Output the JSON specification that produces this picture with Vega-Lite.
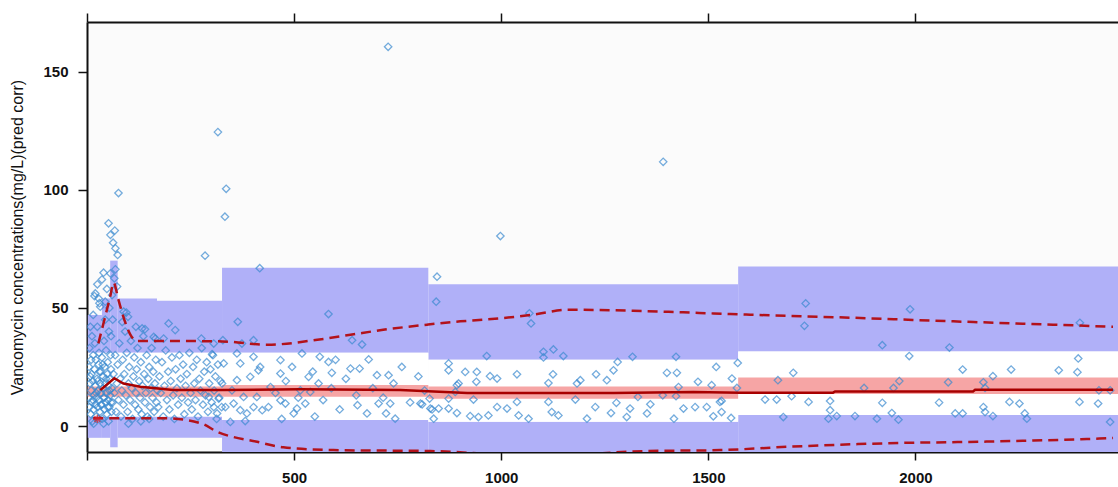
{
  "$schema": "https://vega.github.io/schema/vega-lite/v6.json",
  "width": 1031,
  "height": 430,
  "autosize": "none",
  "padding": {"left": 87, "top": 22, "right": 0, "bottom": 35},
  "background": "#ffffff",
  "config": {
    "view": {"stroke": null, "fill": "#fbfbfb"},
    "axis": {
      "grid": false,
      "domainColor": "#111111",
      "domainWidth": 2,
      "tickColor": "#111111",
      "tickWidth": 1.5,
      "labelColor": "#111111",
      "labelFont": "Liberation Sans",
      "labelFontWeight": "bold",
      "labelFontSize": 15
    }
  },
  "datasets": {
    "bands": [
      {"t0": 2, "t1": 36, "lo": 31, "hi": 47},
      {"t0": 36, "t1": 56, "lo": 31, "hi": 54},
      {"t0": 56, "t1": 74, "lo": 31, "hi": 70},
      {"t0": 74, "t1": 169, "lo": 31, "hi": 54},
      {"t0": 169, "t1": 326, "lo": 31, "hi": 53},
      {"t0": 326, "t1": 824, "lo": 31, "hi": 67},
      {"t0": 824, "t1": 1572, "lo": 28, "hi": 60},
      {"t0": 1572, "t1": 2489, "lo": 31.5, "hi": 67.5},
      {"t0": 2, "t1": 36, "lo": -5, "hi": 4},
      {"t0": 36, "t1": 56, "lo": -5, "hi": 4},
      {"t0": 56, "t1": 74, "lo": -9, "hi": 4},
      {"t0": 74, "t1": 169, "lo": -5, "hi": 4},
      {"t0": 169, "t1": 326, "lo": -5, "hi": 4},
      {"t0": 326, "t1": 824, "lo": -13, "hi": 2.5},
      {"t0": 824, "t1": 1572, "lo": -13, "hi": 1.8},
      {"t0": 1572, "t1": 2489, "lo": -13, "hi": 4.7}
    ],
    "mid": [
      {"t0": 2, "t1": 326, "lo": 4, "hi": 31},
      {"t0": 326, "t1": 824, "lo": 2.5, "hi": 31},
      {"t0": 824, "t1": 1572, "lo": 1.8, "hi": 28},
      {"t0": 1572, "t1": 2489, "lo": 4.7, "hi": 31.5}
    ],
    "pink": [
      {"t0": 2, "t1": 326, "lo": 12.4, "hi": 16.7},
      {"t0": 326, "t1": 824, "lo": 12.4, "hi": 17.4},
      {"t0": 824, "t1": 1572, "lo": 11.5, "hi": 16.7},
      {"t0": 1572, "t1": 2489, "lo": 13.6, "hi": 20.5}
    ],
    "med": [
      {"t": 32, "c": 15.2}, {"t": 66, "c": 20.2}, {"t": 88, "c": 18}, {"t": 129, "c": 16.6},
      {"t": 208, "c": 15.2}, {"t": 327, "c": 15.2}, {"t": 515, "c": 15.6}, {"t": 756, "c": 15.2},
      {"t": 918, "c": 14}, {"t": 1271, "c": 14}, {"t": 1464, "c": 14.4}, {"t": 1577, "c": 14.1},
      {"t": 1801, "c": 14.1}, {"t": 1806, "c": 14.6}, {"t": 2139, "c": 14.6}, {"t": 2144, "c": 15.3},
      {"t": 2477, "c": 15.3}
    ],
    "hi": [
      {"t": 27.5, "c": 35}, {"t": 42, "c": 45}, {"t": 56.5, "c": 55.2}, {"t": 64, "c": 60.7},
      {"t": 76, "c": 53.4}, {"t": 90, "c": 45}, {"t": 105, "c": 38.6}, {"t": 121, "c": 36},
      {"t": 201, "c": 36}, {"t": 327, "c": 35.8}, {"t": 436, "c": 34.4}, {"t": 556, "c": 36.5},
      {"t": 636, "c": 38.6}, {"t": 715, "c": 40.7}, {"t": 821, "c": 42.9}, {"t": 901, "c": 44.3},
      {"t": 957, "c": 45}, {"t": 1077, "c": 47.1}, {"t": 1159, "c": 49.2}, {"t": 1318, "c": 48.8},
      {"t": 1439, "c": 48.1}, {"t": 1601, "c": 47.1}, {"t": 1850, "c": 45.8}, {"t": 2091, "c": 44.3},
      {"t": 2332, "c": 42.9}, {"t": 2477, "c": 42}
    ],
    "lo": [
      {"t": 15, "c": 3.3}, {"t": 189, "c": 3.3}, {"t": 274, "c": 1.2}, {"t": 315, "c": -2.5},
      {"t": 411, "c": -6.7}, {"t": 474, "c": -9}, {"t": 595, "c": -10.2}, {"t": 829, "c": -10.6},
      {"t": 1095, "c": -12.7}, {"t": 1348, "c": -10.6}, {"t": 1529, "c": -10.2}, {"t": 1690, "c": -8.8},
      {"t": 1931, "c": -7.3}, {"t": 2173, "c": -6.6}, {"t": 2414, "c": -5.5}, {"t": 2477, "c": -5.1}
    ],
    "star": [{"t": 25, "c": 3}],
    "obs": [
      {"t":727,"c":160.5},{"t":316,"c":124.4},{"t":336,"c":100.4},{"t":333,"c":88.6},{"t":285,"c":72.1},{"t":417,"c":66.8},
      {"t":76,"c":98.6},{"t":52,"c":85.8},{"t":67,"c":82.7},{"t":56.5,"c":80.9},{"t":63,"c":77.6},{"t":68.5,"c":75.2},
      {"t":74,"c":72.4},{"t":40,"c":64.9},{"t":56.5,"c":64.6},{"t":68.5,"c":66.3},{"t":66,"c":62.5},{"t":20,"c":56.1},
      {"t":28,"c":54},{"t":44,"c":52.6},{"t":32,"c":50.5},{"t":60.5,"c":55.4},{"t":72.6,"c":59},{"t":88.6,"c":48.4},
      {"t":99,"c":46.2},{"t":133,"c":41.3},{"t":161,"c":37.7},{"t":197,"c":43.4},{"t":213,"c":40.6},{"t":185,"c":37},
      {"t":364,"c":44.1},{"t":328,"c":36.3},{"t":276,"c":37},{"t":306,"c":34.9},{"t":374,"c":34.9},{"t":402,"c":36.3},
      {"t":1391,"c":111.8},{"t":998,"c":80.4},
      {"t":583,"c":47.4},{"t":845,"c":63.2},{"t":843,"c":52.6},{"t":640,"c":36.3},{"t":664,"c":34.5},{"t":583,"c":27.1},
      {"t":591,"c":22.5},{"t":636,"c":24.3},{"t":658,"c":24.3},{"t":680,"c":28.2},{"t":700,"c":21.5},{"t":728,"c":21.5},
      {"t":653,"c":8.8},{"t":676,"c":5.3},{"t":704,"c":9.5},{"t":732,"c":9.5},{"t":722,"c":5.3},{"t":744,"c":3.1},
      {"t":805,"c":9.5},{"t":829,"c":7.4},{"t":837,"c":3.1},{"t":849,"c":7.4},{"t":873,"c":26.5},{"t":873,"c":23.6},
      {"t":893,"c":17.3},{"t":519,"c":30.7},{"t":562,"c":29.3},{"t":467,"c":27.9},{"t":467,"c":22.2},{"t":535,"c":20.8},
      {"t":515,"c":15.1},{"t":539,"c":14.4},{"t":559,"c":18},{"t":443,"c":16.5},{"t":467,"c":10.9},{"t":499,"c":5.3},
      {"t":507,"c":7.4},{"t":527,"c":9.5},{"t":479,"c":9.5},{"t":438,"c":8},{"t":423,"c":6.7},{"t":386,"c":5.3},
      {"t":346,"c":1.7},{"t":382,"c":2.1},{"t":410,"c":12.3},{"t":414,"c":23.6},{"t":402,"c":29.3},{"t":362,"c":30.7},
      {"t":302,"c":30.4},{"t":330,"c":26.5},{"t":370,"c":26.5},{"t":418,"c":25},{"t":362,"c":19.4},{"t":394,"c":20.8},
      {"t":326,"c":18},{"t":350,"c":15.1},{"t":378,"c":12.3},{"t":318,"c":11.6},{"t":294,"c":12.3},{"t":306,"c":8},
      {"t":334,"c":8},{"t":354,"c":9.5},{"t":402,"c":8},{"t":370,"c":6.7},{"t":314,"c":5.3},
      {"t":1068,"c":47.7},{"t":1072,"c":43.4},{"t":965,"c":29.6},{"t":1102,"c":31.4},{"t":1126,"c":32.4},{"t":1102,"c":29},
      {"t":1150,"c":29.6},{"t":1317,"c":29.3},{"t":1422,"c":29.3},{"t":1571,"c":26.7},{"t":1519,"c":25},{"t":1281,"c":27.1},
      {"t":913,"c":22.9},{"t":941,"c":22.9},{"t":940,"c":18.7},{"t":973,"c":21.1},{"t":990,"c":20.1},{"t":897,"c":18},
      {"t":889,"c":14.4},{"t":1038,"c":21.9},{"t":1125,"c":21.9},{"t":1114,"c":18.2},{"t":1183,"c":18},{"t":1191,"c":19.4},
      {"t":1229,"c":21.9},{"t":1255,"c":19.4},{"t":1271,"c":23.6},{"t":1400,"c":22.5},{"t":1424,"c":22.5},{"t":1475,"c":18.7},
      {"t":1508,"c":17.3},{"t":1557,"c":20.1},{"t":1428,"c":16.5},{"t":809,"c":9.2},{"t":827,"c":11.6},{"t":833,"c":7},
      {"t":873,"c":11.6},{"t":873,"c":7.4},{"t":893,"c":5.5},{"t":925,"c":4.2},{"t":945,"c":3.8},{"t":969,"c":4.5},
      {"t":933,"c":11.2},{"t":990,"c":8},{"t":1014,"c":7.4},{"t":1038,"c":10.2},{"t":1042,"c":4.5},{"t":1066,"c":3.1},
      {"t":1114,"c":10.2},{"t":1122,"c":5.9},{"t":1138,"c":4.5},{"t":1179,"c":11.2},{"t":1207,"c":3.1},{"t":1227,"c":8},
      {"t":1265,"c":5.5},{"t":1278,"c":9.8},{"t":1303,"c":3.8},{"t":1311,"c":7.4},{"t":1330,"c":12.3},{"t":1352,"c":5.3},
      {"t":1360,"c":9.2},{"t":1390,"c":13},{"t":1417,"c":3.1},{"t":1422,"c":12.6},{"t":1440,"c":7.4},{"t":1468,"c":8},
      {"t":1496,"c":8},{"t":1512,"c":4.1},{"t":1532,"c":10.6},{"t":1532,"c":5.9},{"t":1555,"c":3.4},
      {"t":1735,"c":51.9},{"t":1732,"c":42.4},{"t":1987,"c":49.4},{"t":2397,"c":43.7},{"t":1920,"c":34.2},{"t":2082,"c":33.2},
      {"t":1985,"c":29.6},{"t":2393,"c":28.6},{"t":2391,"c":22.8},{"t":2346,"c":23.6},{"t":2231,"c":23.9},{"t":2114,"c":23.9},
      {"t":2187,"c":21.1},{"t":1961,"c":19},{"t":1947,"c":16.1},{"t":1876,"c":16.1},{"t":2079,"c":18.5},{"t":2164,"c":18.5},
      {"t":2168,"c":16.1},{"t":1705,"c":22.5},{"t":1668,"c":19.4},{"t":1569,"c":16.1},{"t":1637,"c":11.2},{"t":1665,"c":11.2},
      {"t":1701,"c":12.6},{"t":1742,"c":10.2},{"t":1794,"c":10.6},{"t":1794,"c":6.7},{"t":1810,"c":4.2},{"t":1790,"c":3.1},
      {"t":1681,"c":3.8},{"t":1854,"c":4.2},{"t":1907,"c":3.1},{"t":1920,"c":9.8},{"t":1943,"c":5.5},{"t":1959,"c":2.7},
      {"t":2057,"c":9.9},{"t":2096,"c":5.3},{"t":2114,"c":5.3},{"t":2164,"c":8},{"t":2168,"c":5.9},{"t":2187,"c":4.2},
      {"t":2227,"c":10.2},{"t":2251,"c":9.5},{"t":2264,"c":5.3},{"t":2269,"c":3.1},{"t":2396,"c":10.2},{"t":2441,"c":9.5},
      {"t":2470,"c":1.7},{"t":2443,"c":15.1},{"t":2470,"c":15.1},{"t":1528,"c":10.2},
      {"t":4,"c":12},{"t":5,"c":25},{"t":6,"c":8},{"t":6,"c":33},{"t":7,"c":18},{"t":8,"c":42},{"t":9,"c":5},{"t":10,"c":15},
      {"t":10,"c":28},{"t":11,"c":22},{"t":12,"c":10},{"t":12,"c":38},{"t":13,"c":2},{"t":14,"c":19},{"t":15,"c":30},{"t":15,"c":47},
      {"t":16,"c":7},{"t":17,"c":13},{"t":18,"c":24},{"t":19,"c":35},{"t":20,"c":9},{"t":20,"c":17},{"t":21,"c":28},{"t":22,"c":4},
      {"t":23,"c":12},{"t":24,"c":20},{"t":25,"c":42},{"t":26,"c":8},{"t":27,"c":15},{"t":28,"c":26},{"t":29,"c":31},{"t":30,"c":11},
      {"t":31,"c":6},{"t":32,"c":18},{"t":33,"c":23},{"t":34,"c":14},{"t":35,"c":9},{"t":36,"c":29},{"t":37,"c":3},{"t":38,"c":16},
      {"t":39,"c":21},{"t":40,"c":12},{"t":41,"c":36},{"t":42,"c":7},{"t":43,"c":25},{"t":44,"c":18},{"t":45,"c":10},{"t":46,"c":32},
      {"t":47,"c":14},{"t":48,"c":5},{"t":49,"c":22},{"t":50,"c":27},{"t":51,"c":11},{"t":52,"c":17},{"t":53,"c":40},{"t":54,"c":8},
      {"t":55,"c":20},{"t":56,"c":13},{"t":57,"c":30},{"t":58,"c":24},{"t":59,"c":6},{"t":60,"c":16},{"t":44,"c":45},{"t":48,"c":58},
      {"t":36,"c":62},{"t":54,"c":50},{"t":58,"c":38},{"t":30,"c":52},{"t":25,"c":60},{"t":18,"c":55},{"t":62,"c":45},{"t":52,"c":2},
      {"t":40,"c":1},{"t":28,"c":3},{"t":16,"c":1},{"t":22,"c":14},{"t":26,"c":19},{"t":34,"c":9},{"t":38,"c":26},{"t":42,"c":12},
      {"t":46,"c":20},{"t":50,"c":8},{"t":54,"c":15},{"t":58,"c":10},{"t":30,"c":23},{"t":14,"c":11},{"t":8,"c":21},
      {"t":62,"c":10},{"t":64,"c":22},{"t":66,"c":14},{"t":68,"c":30},{"t":70,"c":6},{"t":72,"c":18},{"t":74,"c":26},{"t":76,"c":11},
      {"t":78,"c":35},{"t":80,"c":20},{"t":82,"c":4},{"t":84,"c":15},{"t":86,"c":28},{"t":88,"c":9},{"t":90,"c":22},{"t":92,"c":40},
      {"t":94,"c":13},{"t":96,"c":31},{"t":98,"c":6},{"t":100,"c":18},{"t":102,"c":25},{"t":104,"c":11},{"t":106,"c":36},{"t":108,"c":16},
      {"t":110,"c":3},{"t":112,"c":21},{"t":114,"c":29},{"t":116,"c":9},{"t":118,"c":14},{"t":120,"c":24},{"t":122,"c":33},{"t":124,"c":7},
      {"t":126,"c":19},{"t":128,"c":12},{"t":130,"c":27},{"t":132,"c":5},{"t":134,"c":17},{"t":136,"c":38},{"t":138,"c":22},{"t":140,"c":10},
      {"t":142,"c":14},{"t":144,"c":30},{"t":146,"c":4},{"t":148,"c":20},{"t":150,"c":25},{"t":152,"c":8},{"t":154,"c":16},{"t":156,"c":33},
      {"t":158,"c":12},{"t":160,"c":23},{"t":162,"c":6},{"t":164,"c":18},{"t":166,"c":28},{"t":168,"c":10},{"t":170,"c":15},{"t":85,"c":44},
      {"t":95,"c":48},{"t":118,"c":42},{"t":140,"c":41},{"t":165,"c":37},{"t":130,"c":2},{"t":100,"c":1},{"t":150,"c":3},
      {"t":172,"c":8},{"t":175,"c":21},{"t":178,"c":14},{"t":181,"c":27},{"t":184,"c":4},{"t":187,"c":17},{"t":190,"c":32},{"t":193,"c":11},
      {"t":196,"c":23},{"t":199,"c":7},{"t":202,"c":19},{"t":205,"c":29},{"t":208,"c":13},{"t":211,"c":3},{"t":214,"c":24},{"t":217,"c":16},
      {"t":220,"c":9},{"t":223,"c":30},{"t":226,"c":20},{"t":229,"c":12},{"t":232,"c":26},{"t":235,"c":5},{"t":238,"c":17},{"t":241,"c":22},
      {"t":244,"c":10},{"t":247,"c":31},{"t":250,"c":14},{"t":253,"c":7},{"t":256,"c":25},{"t":259,"c":18},{"t":262,"c":11},{"t":265,"c":28},
      {"t":268,"c":4},{"t":271,"c":20},{"t":274,"c":15},{"t":277,"c":33},{"t":280,"c":9},{"t":283,"c":23},{"t":286,"c":13},{"t":289,"c":27},
      {"t":292,"c":6},{"t":295,"c":18},{"t":298,"c":24},{"t":301,"c":10},{"t":304,"c":30},{"t":307,"c":15},{"t":310,"c":21},{"t":313,"c":3},
      {"t":316,"c":26},{"t":319,"c":12},{"t":322,"c":19},{"t":325,"c":8},
      {"t":455,"c":14},{"t":480,"c":19},{"t":495,"c":25},{"t":510,"c":12},{"t":545,"c":23},{"t":570,"c":11},{"t":590,"c":16},{"t":610,"c":7},
      {"t":625,"c":20},{"t":650,"c":13},{"t":690,"c":16},{"t":715,"c":12},{"t":740,"c":18},{"t":760,"c":25},{"t":780,"c":10},{"t":800,"c":21},
      {"t":815,"c":15},{"t":600,"c":28},{"t":550,"c":4},{"t":470,"c":3}
    ]
  },
  "resolve": {"axis": {"x": "independent"}},
  "layer": [
    {
      "data": {"name": "bands"},
      "mark": {"type": "rect", "color": "#b0b0f8", "clip": true},
      "encoding": {
        "x": {"field": "t0", "type": "quantitative",
              "scale": {"domain": [0, 2489], "nice": false, "zero": false},
              "axis": {"orient": "bottom", "values": [0, 500, 1000, 1500, 2000], "format": "d", "tickSize": 8, "labelPadding": 10,
                       "labelExpr": "datum.value == 0 ? '' : datum.label", "title": null}},
        "x2": {"field": "t1"},
        "y": {"field": "lo", "type": "quantitative",
              "scale": {"domain": [-11, 171], "nice": false, "zero": false},
              "axis": {"orient": "left", "values": [0, 50, 100, 150], "tickSize": 9, "labelPadding": 10,
                       "title": "Vancomycin concentrations(mg/L)(pred corr)",
                       "titleFont": "Liberation Sans", "titleFontWeight": "normal", "titleFontSize": 16,
                       "titleColor": "#111111", "titlePadding": 17}},
        "y2": {"field": "hi"}
      }
    },
    {
      "data": {"name": "mid"},
      "mark": {"type": "rect", "color": "#ffffff", "clip": true},
      "encoding": {
        "x": {"field": "t0", "type": "quantitative",
              "axis": {"orient": "top", "values": [0, 500, 1000, 1500, 2000], "tickSize": 9, "labels": false, "title": null}},
        "x2": {"field": "t1"},
        "y": {"field": "lo", "type": "quantitative"},
        "y2": {"field": "hi"}
      }
    },
    {
      "data": {"name": "pink"},
      "mark": {"type": "rect", "color": "#f6a5a5", "clip": true},
      "encoding": {
        "x": {"field": "t0", "type": "quantitative", "axis": null},
        "x2": {"field": "t1"},
        "y": {"field": "lo", "type": "quantitative"},
        "y2": {"field": "hi"}
      }
    },
    {
      "data": {"name": "obs"},
      "mark": {"type": "point", "shape": "diamond", "filled": false, "color": "#3a8ad0", "size": 55, "strokeWidth": 1.3, "clip": true},
      "encoding": {
        "x": {"field": "t", "type": "quantitative", "axis": null},
        "y": {"field": "c", "type": "quantitative"}
      }
    },
    {
      "data": {"name": "med"},
      "mark": {"type": "line", "color": "#a80000", "strokeWidth": 2.5, "clip": true},
      "encoding": {
        "x": {"field": "t", "type": "quantitative", "axis": null},
        "y": {"field": "c", "type": "quantitative"}
      }
    },
    {
      "data": {"name": "hi"},
      "mark": {"type": "line", "color": "#b3121b", "strokeWidth": 2.5, "strokeDash": [10, 6], "interpolate": "monotone", "clip": true},
      "encoding": {
        "x": {"field": "t", "type": "quantitative", "axis": null},
        "y": {"field": "c", "type": "quantitative"}
      }
    },
    {
      "data": {"name": "lo"},
      "mark": {"type": "line", "color": "#b3121b", "strokeWidth": 2.5, "strokeDash": [10, 6], "interpolate": "monotone", "clip": true},
      "encoding": {
        "x": {"field": "t", "type": "quantitative", "axis": null},
        "y": {"field": "c", "type": "quantitative"}
      }
    },
    {
      "data": {"name": "star"},
      "mark": {"type": "point", "shape": "M-1,0L1,0M0,-1L0,1M-0.7,-0.7L0.7,0.7M-0.7,0.7L0.7,-0.7", "filled": false, "color": "#e0202a", "size": 70, "strokeWidth": 1.5},
      "encoding": {
        "x": {"field": "t", "type": "quantitative", "axis": null},
        "y": {"field": "c", "type": "quantitative"}
      }
    }
  ]
}
